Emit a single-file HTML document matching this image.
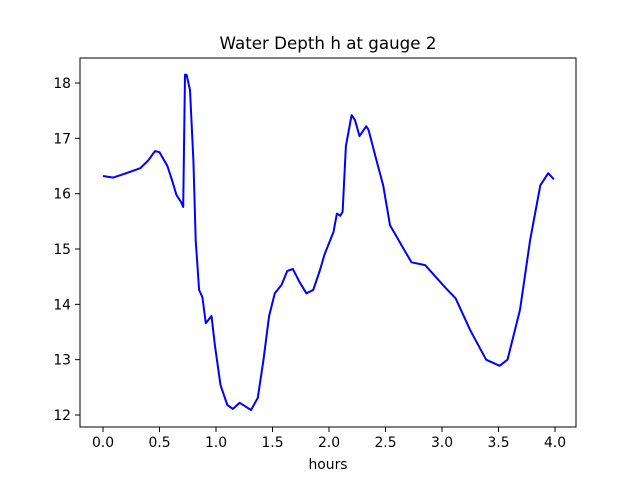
<!DOCTYPE html>
<html><head><meta charset="utf-8"><style>
html,body{margin:0;padding:0;background:#fff;}
svg{display:block;font-family:"DejaVu Sans","Liberation Sans",sans-serif;}
</style></head><body>
<svg id="chart" width="640" height="480" viewBox="0 0 640 480">
<rect x="0" y="0" width="640" height="480" fill="#fff"/>
<text x="328" y="49" font-size="16.7" text-anchor="middle">Water Depth h at gauge 2</text>
<g id="xticks"></g>
<g id="yticks"></g>
<polyline id="line" fill="none" stroke="#0000ff" stroke-width="2" stroke-linejoin="round"/>
<rect x="80" y="58" width="496" height="369" fill="none" stroke="#000" stroke-width="1"/>
<text x="328" y="469" font-size="13.9" text-anchor="middle">hours</text>
</svg>
<script>
const hours=[0,0.09,0.19,0.33,0.40,0.46,0.50,0.57,0.61,0.65,0.69,0.71,0.726,0.74,0.77,0.80,0.82,0.85,0.88,0.91,0.96,0.99,1.04,1.10,1.15,1.21,1.31,1.37,1.42,1.47,1.52,1.58,1.63,1.68,1.74,1.80,1.86,1.92,1.96,2.04,2.07,2.10,2.12,2.15,2.20,2.23,2.27,2.33,2.35,2.42,2.48,2.54,2.65,2.73,2.85,3.03,3.12,3.25,3.39,3.51,3.58,3.69,3.78,3.87,3.94,3.99];
const depth=[16.32,16.29,16.36,16.46,16.6,16.77,16.75,16.5,16.25,15.98,15.85,15.76,18.15,18.15,17.87,16.6,15.16,14.26,14.13,13.66,13.79,13.26,12.54,12.18,12.11,12.22,12.09,12.31,13.0,13.79,14.2,14.35,14.6,14.64,14.4,14.2,14.26,14.62,14.9,15.31,15.64,15.6,15.67,16.86,17.42,17.33,17.04,17.22,17.15,16.6,16.15,15.43,15.04,14.76,14.71,14.3,14.11,13.53,13.0,12.89,13.0,13.9,15.16,16.15,16.37,16.26];
const xTicks=[0,0.5,1,1.5,2,2.5,3,3.5,4];
const xTickLabels=["0.0","0.5","1.0","1.5","2.0","2.5","3.0","3.5","4.0"];
const yTicks=[12,13,14,15,16,17,18];
const yTickLabels=["12","13","14","15","16","17","18"];
const X=v=>103+v*113;
const Y=v=>415-(v-12)*55.33;
const NS="http://www.w3.org/2000/svg";
const line=document.getElementById('line');
line.setAttribute('points',hours.map((h,i)=>X(h).toFixed(1)+','+Y(depth[i]).toFixed(1)).join(' '));
const xg=document.getElementById('xticks');
xTicks.forEach((t,i)=>{
  const l=document.createElementNS(NS,'line');
  
  
  l.setAttribute('x1',X(t));l.setAttribute('x2',X(t));l.setAttribute('y1',427);l.setAttribute('y2',432);l.setAttribute('stroke','#000');
  xg.appendChild(l);
  const tx=document.createElementNS(NS,'text');
  
  
  tx.setAttribute('x',X(t));tx.setAttribute('y',447);tx.setAttribute('font-size','13.9');tx.setAttribute('text-anchor','middle');
  tx.textContent=xTickLabels[i];
  xg.appendChild(tx);
});
const yg=document.getElementById('yticks');
yTicks.forEach((t,i)=>{
  const l=document.createElementNS(NS,'line');
  
  
  l.setAttribute('x1',75);l.setAttribute('x2',80);l.setAttribute('y1',Y(t));l.setAttribute('y2',Y(t));l.setAttribute('stroke','#000');
  yg.appendChild(l);
  const tx=document.createElementNS(NS,'text');
  
  
  tx.setAttribute('x',71);tx.setAttribute('y',Y(t)+5);tx.setAttribute('font-size','13.9');tx.setAttribute('text-anchor','end');
  tx.textContent=yTickLabels[i];
  yg.appendChild(tx);
});
</script>
</body></html>
